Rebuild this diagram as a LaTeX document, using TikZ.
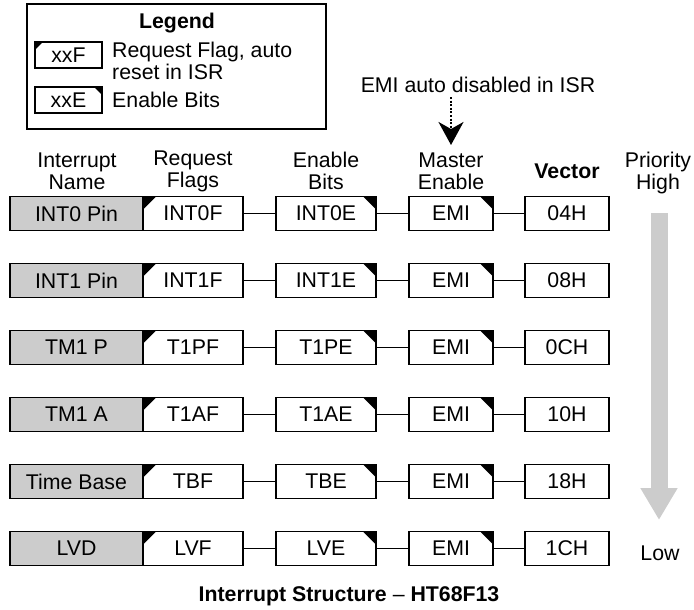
\documentclass[tikz,border=0pt]{standalone}
\usepackage{fontspec}
\setmainfont{Liberation Sans}
\usetikzlibrary{arrows.meta}
\definecolor{namegray}{RGB}{204,204,204}
\tikzset{
	box/.style={draw, line width=1.2pt, minimum height=34pt, inner sep=0pt, fill=white},
	namebox/.style={box, fill=namegray, minimum width=133pt},
	flagbox/.style={box, path picture={\fill[black] (path picture bounding box.north west) -- ++(#1pt,0pt) -- ++(-#1pt,-#1pt) -- cycle;}},
	enbox/.style={box, path picture={\fill[black] (path picture bounding box.north east) -- ++(-#1pt,0pt) -- ++(#1pt,-#1pt) -- cycle;}},
	link/.style={line width=1.2pt},
	head/.style={align=center, inner sep=0pt},
	emiarrow/.style={line width=2.4pt, dash pattern=on 2pt off 1.6pt, -{Stealth[length=23pt,width=25pt,inset=7pt]}},
	prioarrow/.style={draw=namegray, line width=17pt, -{Triangle[width=35pt,length=32pt]}}
}
\begin{document}
\begin{tikzpicture}[x=1pt, y=-1pt, font=\fontsize{21.3}{22}\selectfont]
	\useasboundingbox (0,0) rectangle (694,610);
	% legend
	\node[draw, line width=1.2pt, minimum width=299pt, minimum height=125pt] (legend) at (176.5,66.5) {};
	\node[inner sep=0pt] (legtitle) at (177,23) {\bfseries Legend};
	\node[flagbox=8, minimum width=67pt, minimum height=26pt] (legf) at (68.5,55) {xxF};
	\node[enbox=8, minimum width=67pt, minimum height=26pt] (lege) at (68.5,100) {xxE};
	\node[anchor=west, align=left, inner sep=0pt] (legftext) at (112,61) {Request Flag, auto\\reset in ISR};
	\node[anchor=west, inner sep=0pt] (legetext) at (112,100) {Enable Bits};
	% column heads
	\node[head] (h1) at (77,171) {Interrupt\\Name};
	\node[head] (h2) at (193,171) {Request\\Flags};
	\node[head] (h3) at (326,171) {Enable\\Bits};
	\node[head] (h4) at (451,171) {Master\\Enable};
	\node[head] (h5) at (567,171) {\bfseries Vector};
	\node[head] (prio) at (658,173) {Priority\\High};
	\node[head] (low) at (660,553) {Low};
	% EMI note
	\node[inner sep=0pt] (emitext) at (478,85) {EMI auto disabled in ISR};
	\coordinate (emitip) at (451,145);
	\draw[emiarrow] ([yshift=-4pt]emitext.south -| emitip) -- (emitip);
	% interrupt rows
	\foreach \nm/\fl/\en/\vc [count=\i, evaluate=\i as \ry using 146.5+67*\i] in
		{INT0 Pin/INT0F/INT0E/04H, INT1 Pin/INT1F/INT1E/08H, TM1 P/T1PF/T1PE/0CH,
		 TM1 A/T1AF/T1AE/10H, Time Base/TBF/TBE/18H, LVD/LVF/LVE/1CH}{
		\node[namebox] (n\i) at (76.5,\ry) {\nm};
		\node[flagbox=13, minimum width=100pt] (f\i) at (193,\ry) {\fl};
		\node[enbox=13, minimum width=100pt] (e\i) at (326,\ry) {\en};
		\node[enbox=13, minimum width=84pt] (m\i) at (451,\ry) {EMI};
		\node[box, minimum width=84pt] (v\i) at (567,\ry) {\vc};
		\draw[link] (f\i) -- (e\i);
		\draw[link] (e\i) -- (m\i);
		\draw[link] (m\i) -- (v\i);
	}
	% priority
	\coordinate (ptop) at (659,213);
	\coordinate (pbot) at (659,520);
	\draw[prioarrow] (ptop) -- (pbot);
	% caption
	\node[inner sep=0pt] (caption) at (349,596) {\bfseries Interrupt Structure {\mdseries –} HT68F13};
\end{tikzpicture}
\end{document}
